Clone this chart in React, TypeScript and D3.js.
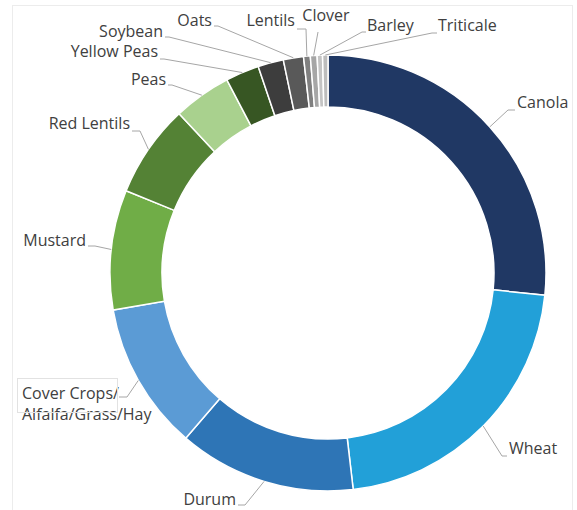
import React from "react";
import * as d3 from "d3";

const categories = [
  "Canola", "Wheat", "Durum", "Cover Crops/Alfalfa/Grass/Hay", "Mustard", "Red Lentils",
  "Peas", "Yellow Peas", "Soybean", "Oats", "Lentils", "Clover", "Barley", "Triticale",
];
const shares = [26.7, 21.6, 13.2, 11.0, 8.9, 6.9, 4.3, 2.5, 1.9, 1.5, 0.5, 0.5, 0.4, 0.4];
const colors = [
  "#203864", "#22a0d8", "#2e75b6", "#5b9bd5", "#70ad47", "#548235",
  "#a9d18e", "#375623", "#3d3d3d", "#595959", "#808080", "#a6a6a6", "#c4c4c4", "#bdbdbd",
];

// label layout: text anchor point, anchor, leader elbow, leader end
const labelLayout: Record<string, { lines: string[]; x: number; y: number; anchor: string; elbow: [number, number]; end: [number, number] }> = {
  "Canola": { lines: ["Canola"], x: 517, y: 104, anchor: "start", elbow: [508, 110], end: [515, 110] },
  "Wheat": { lines: ["Wheat"], x: 509, y: 450, anchor: "start", elbow: [502, 456], end: [507, 456] },
  "Durum": { lines: ["Durum"], x: 236, y: 501, anchor: "end", elbow: [245, 505], end: [238, 505] },
  "Cover Crops/Alfalfa/Grass/Hay": { lines: ["Cover Crops/", "Alfalfa/Grass/Hay"], x: 22, y: 395, anchor: "start", elbow: [127, 397], end: [119, 397] },
  "Mustard": { lines: ["Mustard"], x: 86, y: 242, anchor: "end", elbow: [95, 246], end: [88, 246] },
  "Red Lentils": { lines: ["Red Lentils"], x: 130, y: 125, anchor: "end", elbow: [140, 131], end: [132, 131] },
  "Peas": { lines: ["Peas"], x: 166, y: 81, anchor: "end", elbow: [172, 85], end: [168, 85] },
  "Yellow Peas": { lines: ["Yellow Peas"], x: 158, y: 53, anchor: "end", elbow: [164, 59], end: [160, 59] },
  "Soybean": { lines: ["Soybean"], x: 163, y: 33, anchor: "end", elbow: [169, 37], end: [165, 37] },
  "Oats": { lines: ["Oats"], x: 212, y: 22, anchor: "end", elbow: [218, 26], end: [214, 26] },
  "Lentils": { lines: ["Lentils"], x: 295, y: 22, anchor: "end", elbow: [306, 29], end: [297, 29] },
  "Clover": { lines: ["Clover"], x: 326, y: 17, anchor: "middle", elbow: [318, 32], end: [318, 32] },
  "Barley": { lines: ["Barley"], x: 367, y: 27, anchor: "start", elbow: [362, 32], end: [366, 32] },
  "Triticale": { lines: ["Triticale"], x: 438, y: 27, anchor: "start", elbow: [432, 33], end: [437, 33] },
};

const W = 577;
const H = 510;
const cx = 328;
const cy = 273;
const outerR = 218;
const innerR = 166;

export default function App() {
  const data = categories.map((c, i) => ({ name: c, value: shares[i], color: colors[i] }));
  const pie = d3.pie<any>().sort(null).value((d: any) => d.value);
  const arcs = pie(data);
  const arc = d3.arc<any>().innerRadius(innerR).outerRadius(outerR);
  const fontFamily = "'Open Sans', 'Noto Sans', sans-serif";

  return (
    <svg width={W} height={H} style={{ position: "absolute", left: 0, top: 0, background: "#fff" }}>
      <rect x={12.5} y={5.5} width={560} height={520} fill="none" stroke="#ececec" />
      <g transform={`translate(${cx},${cy})`}>
        {arcs.map((a, i) => (
          <path key={i} d={arc(a) || ""} fill={a.data.color} stroke="#fff" strokeWidth={1.5} />
        ))}
      </g>
      {arcs.map((a, i) => {
        const L = labelLayout[a.data.name];
        const mid = (a.startAngle + a.endAngle) / 2;
        const px = cx + outerR * Math.sin(mid);
        const py = cy - outerR * Math.cos(mid);
        const pts = [[px, py], L.elbow, L.end];
        return (
          <g key={"l" + i}>
            <polyline points={pts.map((p) => p.join(",")).join(" ")} fill="none" stroke="#a6a6a6" strokeWidth={1} />
            <text x={L.x} y={L.y} textAnchor={L.anchor} fontFamily={fontFamily} fontSize={16} fill="#404040">
              {L.lines.map((ln, j) => (
                <tspan key={j} x={L.x} y={L.y + j * 21} dominantBaseline="middle">{ln}</tspan>
              ))}
            </text>
          </g>
        );
      })}
      <rect x={17.5} y={378.5} width={100} height={34} fill="none" stroke="#e2e2e2" />
    </svg>
  );
}
